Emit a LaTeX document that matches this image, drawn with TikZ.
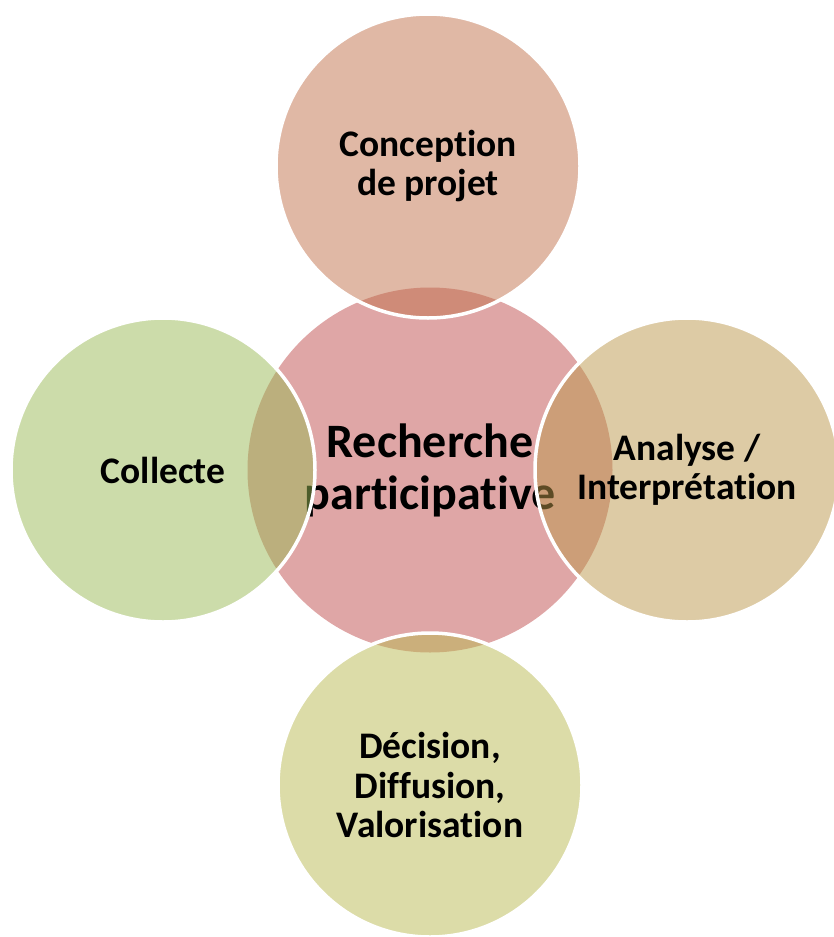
\documentclass[tikz,border=0pt]{standalone}
\usepackage{fontspec}
\setmainfont{Carlito}[Ligatures=NoCommon]
\usepackage{tikz}
\definecolor{coreRose}{RGB}{223,166,166}
\definecolor{projBrown}{RGB}{193,113,75}
\definecolor{collGreen}{RGB}{153,185,85}
\definecolor{anaTan}{RGB}{187,151,75}
\definecolor{diffOlive}{RGB}{185,185,81}
\tikzset{core/.style={
    circle, fill=coreRose, minimum size=365pt, inner sep=0pt,
    align=center, font=\fontsize{48}{52}\selectfont\bfseries
  },
  stage/.style={
    circle, fill=#1, fill opacity=0.5, text opacity=1,
    draw=white, line width=3.5pt,
    minimum size=304pt, inner sep=0pt,
    align=center, font=\fontsize{37.5}{39.5}\selectfont\bfseries
  }
}
\begin{document}
\begin{tikzpicture}[x=1pt,y=-1pt]
  \useasboundingbox (0,0) rectangle (833,937);
  \node[core] (rp) at (430,470) {Recherche\\participative};
  \node[stage=projBrown] (proj) at (428,166) {Conception\\de projet};
  \node[stage=collGreen] (coll) at (163,470) {Collecte};
  \node[stage=anaTan] (ana) at (687,470) {Analyse /\\Interprétation};
  \node[stage=diffOlive] (diff) at (430,785) {Décision,\\Diffusion,\\Valorisation};
\end{tikzpicture}
\end{document}
